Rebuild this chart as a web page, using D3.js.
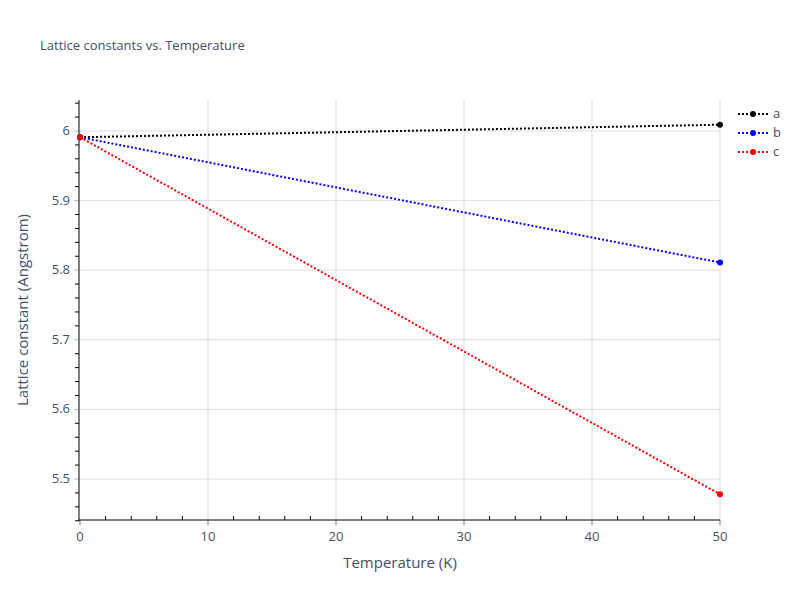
<!DOCTYPE html>
<html><head><meta charset="utf-8">
<script src="https://cdn.jsdelivr.net/npm/d3@7"></script>
<style>body{margin:0;background:#fff}</style>
</head><body>
<svg id="c" width="800" height="600"></svg>
<script>
const temps = [0, 50];
const seriesNames = ["a", "b", "c"];
const seriesColors = ["black", "blue", "red"];
const aVals = [5.991, 6.009];
const bVals = [5.991, 5.811];
const cVals = [5.991, 5.478];
const xTicks = [0, 10, 20, 30, 40, 50];
const yTicks = [5.5, 5.6, 5.7, 5.8, 5.9, 6];

const svg = d3.select("#c");
const font = "'Open Sans', Verdana, Arial, sans-serif";
const txt = "#3d4f6b";
const L = 80, R = 720, T = 100, B = 520;
const x = d3.scaleLinear().domain([0, 50]).range([L, R]);
const y = d3.scaleLinear().domain([5.4411, 6.0445]).range([B, T]);

svg.append("g").selectAll("line").data(xTicks.slice(1)).join("line")
  .attr("x1", d => x(d)).attr("x2", d => x(d)).attr("y1", T).attr("y2", B)
  .attr("stroke", "#dedede").attr("stroke-width", 1);
svg.append("g").selectAll("line").data(yTicks).join("line")
  .attr("x1", L).attr("x2", R).attr("y1", d => y(d)).attr("y2", d => y(d))
  .attr("stroke", "#dedede").attr("stroke-width", 1);

const xMinor = d3.range(0, 50.01, 2).filter(v => v % 10 !== 0);
svg.append("g").selectAll("line").data(xMinor).join("line")
  .attr("x1", d => x(d)).attr("x2", d => x(d)).attr("y1", B).attr("y2", B - 4)
  .attr("stroke", "#000");
const yMinor = d3.range(5.44, 6.045, 0.02).filter(v => Math.abs(v*10 - Math.round(v*10)) > 0.01);
svg.append("g").selectAll("line").data(yMinor).join("line")
  .attr("x1", L - 5).attr("x2", L-1).attr("y1", d => y(d)).attr("y2", d => y(d))
  .attr("stroke", "#000");
svg.append("g").selectAll("line").data(xTicks).join("line")
  .attr("x1", d => x(d)).attr("x2", d => x(d)).attr("y1", B).attr("y2", B + 5)
  .attr("stroke", "#bbb").attr("stroke-width", 2);
svg.append("g").selectAll("line").data(yTicks).join("line")
  .attr("x1", L - 6).attr("x2", L-1).attr("y1", d => y(d)).attr("y2", d => y(d))
  .attr("stroke", "#bbb").attr("stroke-width", 1);

svg.append("line").attr("x1", L-1).attr("x2", L-1).attr("y1", T).attr("y2", B+1).attr("stroke", "#000");
svg.append("line").attr("x1", L-1).attr("x2", R).attr("y1", B).attr("y2", B).attr("stroke", "#000");

svg.append("g").selectAll("text").data(xTicks).join("text")
  .attr("x", d => x(d)).attr("y", B + 21).attr("text-anchor", "middle")
  .attr("font-family", font).attr("font-size", 13).attr("fill", txt).text(d => d);
svg.append("g").selectAll("text").data(yTicks).join("text")
  .attr("x", L - 10).attr("y", d => y(d) + 4).attr("text-anchor", "end")
  .attr("font-family", font).attr("font-size", 13).attr("fill", txt).text(d => d);

svg.append("text").attr("x", 40).attr("y", 50).attr("font-family", font).attr("font-size", 13)
  .attr("fill", txt).text("Lattice constants vs. Temperature");
svg.append("text").attr("x", 400).attr("y", 568).attr("text-anchor", "middle").attr("font-family", font)
  .attr("font-size", 15).attr("fill", txt).text("Temperature (K)");
svg.append("text").attr("transform", "translate(28,310) rotate(-90)").attr("text-anchor", "middle")
  .attr("font-family", font).attr("font-size", 15).attr("fill", txt).text("Lattice constant (Angstrom)");

const allVals = [aVals, bVals, cVals];
const line = d3.line().x((d, i) => x(temps[i])).y(d => y(d));
allVals.forEach((vals, k) => {
  svg.append("path").datum(vals).attr("d", line).attr("fill", "none")
    .attr("stroke", seriesColors[k]).attr("stroke-width", 2).attr("stroke-dasharray", "2,2");
});
allVals.forEach((vals, k) => {
  svg.append("g").selectAll("circle").data(vals).join("circle")
    .attr("cx", (d, i) => x(temps[i])).attr("cy", d => y(d)).attr("r", 3)
    .attr("fill", seriesColors[k]);
});

seriesNames.forEach((n, k) => {
  const ly = 114 + k * 19;
  svg.append("line").attr("x1", 738).attr("x2", 768).attr("y1", ly).attr("y2", ly)
    .attr("stroke", seriesColors[k]).attr("stroke-width", 2).attr("stroke-dasharray", "2,2");
  svg.append("circle").attr("cx", 753).attr("cy", ly).attr("r", 3).attr("fill", seriesColors[k]);
  svg.append("text").attr("x", 773).attr("y", ly + 4).attr("font-family", font).attr("font-size", 13)
    .attr("fill", txt).text(n);
});
</script>
</body></html>
